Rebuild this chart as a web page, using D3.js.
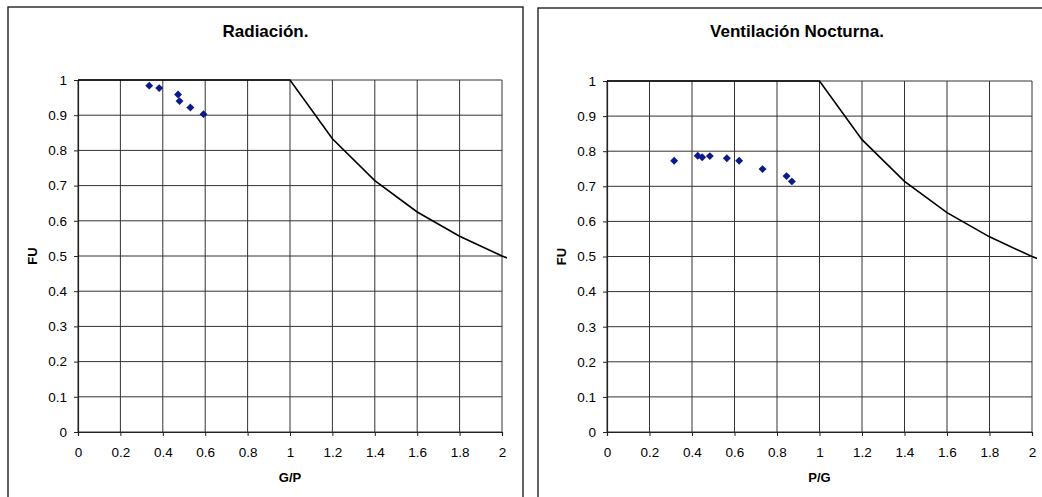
<!DOCTYPE html>
<html>
<head>
<meta charset="utf-8">
<script src="https://cdn.jsdelivr.net/npm/d3@7"></script>
<style>
  body { margin: 0; background: #fff; }
  text { font-family: Arial, "Liberation Sans", sans-serif; fill: #000; }
</style>
</head>
<body>
<script>

// Reference curve (FU limit), same for both charts
const curveX = [0, 1, 1.2, 1.4, 1.6, 1.8, 2, 2.2]
const curveY = [1, 1, 0.833, 0.714, 0.625, 0.556, 0.5, 0.455]

// Radiación points
const radX = [0.336, 0.383, 0.472, 0.479, 0.530, 0.592]
const radY = [0.984, 0.977, 0.959, 0.940, 0.922, 0.903]

// Ventilación Nocturna points
const ventX = [0.316, 0.427, 0.448, 0.484, 0.564, 0.622, 0.732, 0.845, 0.870]
const ventY = [0.773, 0.787, 0.783, 0.786, 0.780, 0.773, 0.749, 0.729, 0.714]

const xTicks = [0, 0.2, 0.4, 0.6, 0.8, 1, 1.2, 1.4, 1.6, 1.8, 2]
const yTicks = [0, 0.1, 0.2, 0.3, 0.4, 0.5, 0.6, 0.7, 0.8, 0.9, 1]

const w = 1042
const h = 497

const svg = d3.select('body')
    .append('svg')
        .attr('width', w)
        .attr('height', h)

const renderChart = (opts) => {
    const { id, frame, plot, title, xLabel, xs, ys } = opts

    // outer frame
    svg.append('rect')
        .attr('x', frame.x)
        .attr('y', frame.y)
        .attr('width', frame.w)
        .attr('height', frame.h)
        .attr('fill', 'none')
        .attr('stroke', '#222')
        .attr('stroke-width', 1.4)

    const xScale = d3.scaleLinear()
        .domain([0, 2])
        .range([plot.left, plot.right])

    const yScale = d3.scaleLinear()
        .domain([0, 1])
        .range([plot.bottom, plot.top])

    const g = svg.append('g')

    // grid
    g.selectAll('.vgrid')
        .data(xTicks)
        .enter()
        .append('line')
            .attr('x1', d => xScale(d))
            .attr('x2', d => xScale(d))
            .attr('y1', plot.top)
            .attr('y2', plot.bottom)
            .attr('stroke', '#333')
            .attr('stroke-width', 1)

    g.selectAll('.hgrid')
        .data(yTicks)
        .enter()
        .append('line')
            .attr('x1', plot.left)
            .attr('x2', plot.right)
            .attr('y1', d => yScale(d))
            .attr('y2', d => yScale(d))
            .attr('stroke', '#333')
            .attr('stroke-width', 1)

    // axes
    const xAxis = d3.axisBottom(xScale)
        .tickValues(xTicks)
        .tickSize(4)
        .tickPadding(11)
        .tickFormat(d3.format('~g'))

    const yAxis = d3.axisLeft(yScale)
        .tickValues(yTicks)
        .tickSize(4)
        .tickPadding(7)
        .tickFormat(d3.format('~g'))

    const xg = svg.append('g')
        .attr('transform', `translate(0, ${plot.bottom})`)
        .call(xAxis)
    const yg = svg.append('g')
        .attr('transform', `translate(${plot.left}, 0)`)
        .call(yAxis)

    ;[xg, yg].forEach(a => {
        a.attr('font-size', 13.5)
            .attr('font-family', 'Arial, "Liberation Sans", sans-serif')
        a.select('.domain').attr('stroke', '#222').attr('stroke-width', 1.2)
        a.selectAll('.tick line').attr('stroke', '#222')
        a.selectAll('.tick text')
            .attr('font-size', 13.5)
            .attr('fill', '#000')
    })

    // reference line, clipped a bit past the plot edge
    const clipId = 'clip-' + id
    svg.append('clipPath')
        .attr('id', clipId)
        .append('rect')
            .attr('x', plot.left - 5)
            .attr('y', plot.top - 5)
            .attr('width', plot.right - plot.left + 10)
            .attr('height', plot.bottom - plot.top + 10)

    const line = d3.line()
        .x(d => xScale(d[0]))
        .y(d => yScale(d[1]))

    svg.append('path')
        .datum(curveX.map((x, i) => [x, curveY[i]]))
        .attr('clip-path', `url(#${clipId})`)
        .attr('d', line)
        .attr('fill', 'none')
        .attr('stroke', '#000')
        .attr('stroke-width', 1.6)

    // points
    const diamond = d3.symbol().type(d3.symbolDiamond2).size(40)

    svg.selectAll('.pt-' + id)
        .data(xs.map((x, i) => [x, ys[i]]))
        .enter()
        .append('path')
            .attr('class', 'pt-' + id)
            .attr('d', diamond)
            .attr('transform', d => `translate(${xScale(d[0])}, ${yScale(d[1])})`)
            .attr('fill', '#0a1a8c')

    // title centred in the frame
    svg.append('text')
        .attr('x', frame.x + frame.cw / 2)
        .attr('y', 37)
        .attr('text-anchor', 'middle')
        .attr('font-weight', 'bold')
        .attr('font-size', 17)
        .text(title)

    svg.append('text')
        .attr('x', (plot.left + plot.right) / 2)
        .attr('y', 482)
        .attr('text-anchor', 'middle')
        .attr('font-weight', 'bold')
        .attr('font-size', 13)
        .text(xLabel)

    const ly = (plot.top + plot.bottom) / 2
    const lx = plot.left - 41
    svg.append('text')
        .attr('x', lx)
        .attr('y', ly)
        .attr('text-anchor', 'middle')
        .attr('transform', `rotate(-90, ${lx}, ${ly})`)
        .attr('font-weight', 'bold')
        .attr('font-size', 13)
        .text('FU')
}

renderChart({
    id: 'rad',
    frame: { x: 8, y: 7, w: 515, h: 500, cw: 515 },
    plot: { left: 78, right: 502, top: 80, bottom: 432 },
    title: 'Radiación.',
    xLabel: 'G/P',
    xs: radX,
    ys: radY
})

renderChart({
    id: 'vent',
    frame: { x: 538, y: 8, w: 520, h: 500, cw: 518 },
    plot: { left: 607, right: 1032, top: 81, bottom: 432 },
    title: 'Ventilación Nocturna.',
    xLabel: 'P/G',
    xs: ventX,
    ys: ventY
})

</script>
</body>
</html>
